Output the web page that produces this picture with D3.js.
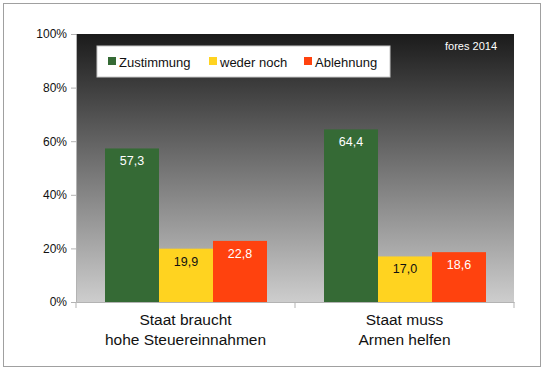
<!DOCTYPE html>
<html>
<head>
<meta charset="utf-8">
<script src="https://cdn.jsdelivr.net/npm/d3@7"></script>
<style>
  body { margin: 0; background: #fff; }
  text { font-family: "Liberation Sans", Arial, sans-serif; }
</style>
</head>
<body>
<div id="chart"></div>
<script>
// Data
const categories = ["Staat braucht\nhohe Steuereinnahmen", "Staat muss\nArmen helfen"];
const seriesNames = ["Zustimmung", "weder noch", "Ablehnung"];
const zustimmung = [57.3, 64.4];
const wederNoch = [19.9, 17.0];
const ablehnung = [22.8, 18.6];
const yTicks = [0, 20, 40, 60, 80, 100];

const colors = ["#356a35", "#ffd320", "#ff420e"];
const labelColors = ["#fff", "#111", "#fff"];
const seriesValues = [zustimmung, wederNoch, ablehnung];

const w = 545;
const h = 371;
const margin = { top: 34, right: 31, bottom: 69, left: 76 };
const innerW = w - margin.left - margin.right;
const innerH = h - margin.top - margin.bottom;

const svg = d3
  .select("#chart")
  .append("svg")
  .attr("width", w)
  .attr("height", h);

// outer frame
svg
  .append("rect")
  .attr("x", 3.5)
  .attr("y", 3.5)
  .attr("width", w - 8)
  .attr("height", h - 8)
  .attr("fill", "#fff")
  .attr("stroke", "#a0a0a0");

// gradient for plot background
const grad = svg
  .append("defs")
  .append("linearGradient")
  .attr("id", "bg")
  .attr("x1", 0)
  .attr("y1", 0)
  .attr("x2", 0)
  .attr("y2", 1);
grad.append("stop").attr("offset", "0%").attr("stop-color", "#1b1b1b");
grad.append("stop").attr("offset", "100%").attr("stop-color", "#cdcdcd");

const g = svg
  .append("g")
  .attr("transform", `translate(${margin.left},${margin.top})`);

g.append("rect")
  .attr("width", innerW)
  .attr("height", innerH)
  .attr("fill", "url(#bg)");

// scales
const x0 = d3.scaleBand().domain(categories).range([0, innerW]).paddingInner(0).paddingOuter(0);
const x1 = d3
  .scaleBand()
  .domain(seriesNames)
  .range([29, x0.bandwidth() - 28]);
const y = d3.scaleLinear().domain([0, 100]).range([innerH, 0]);

// axes
const yAxis = g
  .append("g")
  .call(
    d3
      .axisLeft(y)
      .tickValues(yTicks)
      .tickSize(5)
      .tickFormat((d) => d + "%")
  );
yAxis.select(".domain").attr("stroke", "#b3b3b3");
yAxis.selectAll(".tick line").attr("stroke", "#b3b3b3");
yAxis
  .selectAll(".tick text")
  .attr("fill", "#111")
  .style("font-size", "12px")
  .attr("x", -9);

// bars
categories.forEach((cat, ci) => {
  const grp = g.append("g").attr("transform", `translate(${x0(cat)},0)`);
  seriesNames.forEach((s, si) => {
    const v = seriesValues[si][ci];
    grp
      .append("rect")
      .attr("x", x1(s))
      .attr("y", y(v))
      .attr("width", x1.bandwidth())
      .attr("height", innerH - y(v))
      .attr("fill", colors[si]);
    grp
      .append("text")
      .attr("x", x1(s) + x1.bandwidth() / 2)
      .attr("y", y(v) + 17)
      .attr("text-anchor", "middle")
      .attr("fill", labelColors[si])
      .style("font-size", "12.5px")
      .text(d3.format(".1f")(v).replace(".", ","));
  });
});

// x axis
const xAxis = g
  .append("g")
  .attr("transform", `translate(0,${innerH})`)
  .call(d3.axisBottom(x0).tickSize(0).tickFormat(""));
xAxis.select(".domain").attr("stroke", "#b3b3b3");
[0, x0.bandwidth(), innerW].forEach((p) => {
  xAxis
    .append("line")
    .attr("x1", p)
    .attr("x2", p)
    .attr("y1", 0)
    .attr("y2", 6)
    .attr("stroke", "#b3b3b3");
});

categories.forEach((cat) => {
  const t = g
    .append("text")
    .attr("x", x0(cat) + x0.bandwidth() / 2)
    .attr("y", innerH + 23)
    .attr("text-anchor", "middle")
    .attr("fill", "#111")
    .style("font-size", "15.5px");
  cat.split("\n").forEach((line, i) => {
    t.append("tspan")
      .attr("x", x0(cat) + x0.bandwidth() / 2)
      .attr("dy", i === 0 ? 0 : 19.5)
      .text(line);
  });
});

// legend
const legend = g.append("g").attr("transform", "translate(21,12)");
legend
  .append("rect")
  .attr("width", 293)
  .attr("height", 31)
  .attr("fill", "#fff")
  .attr("stroke", "#c8c8c8");
const legendX = [11, 112, 207];
seriesNames.forEach((s, i) => {
  legend
    .append("rect")
    .attr("x", legendX[i])
    .attr("y", 11)
    .attr("width", 8)
    .attr("height", 8)
    .attr("fill", colors[i]);
  legend
    .append("text")
    .attr("x", legendX[i] + 11)
    .attr("y", 20.5)
    .attr("fill", "#111")
    .style("font-size", "13px")
    .text(s);
});

g.append("text")
  .attr("x", innerW - 17)
  .attr("y", 16)
  .attr("text-anchor", "end")
  .attr("fill", "#fff")
  .style("font-size", "11px")
  .text("fores 2014");
</script>
</body>
</html>
